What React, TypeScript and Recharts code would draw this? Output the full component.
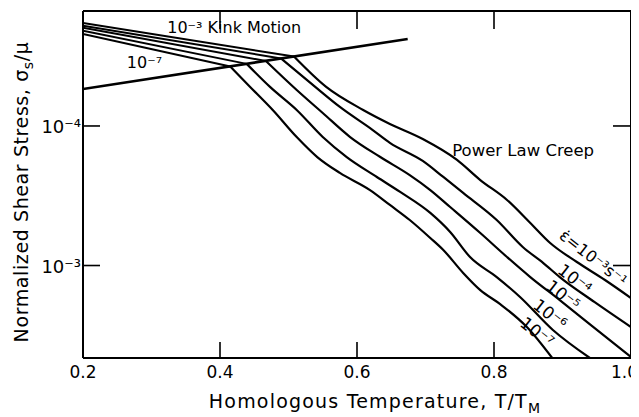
import React from 'react';
import { LineChart, Line, XAxis, YAxis, ReferenceDot, ReferenceLine } from 'recharts';

const FONT = '"DejaVu Sans", Verdana, sans-serif';
const INK = '#000';

// Layout
const CHART_W = 631;
const CHART_H = 409;
const MARGIN = { top: 3, right: 8, left: 15, bottom: 11 };
const PLOT_TOP = MARGIN.top;
const PLOT_RIGHT = CHART_W - MARGIN.right;

// Axes
const X_DOMAIN = [0.2, 1.0];
const X_TICKS = [0.2, 0.4, 0.6, 0.8, 1.0];
const X_TICK_LABELS = ['0.2', '0.4', '0.6', '0.8', '1.0'];
const Y_DOMAIN = [1.5e-5, 4.6e-3];
const Y_TICKS = [1e-4, 1e-3];
const Y_TICK_LABELS = ['10⁻⁴', '10⁻³'];

// Kink-motion lines [T/TM, stress]
const KINK_E3 = [[0.2, 1.83e-5], [0.508, 3.18e-5]];
const KINK_E4 = [[0.2, 1.91e-5], [0.489, 3.28e-5]];
const KINK_E5 = [[0.2, 1.98e-5], [0.467, 3.42e-5]];
const KINK_E6 = [[0.2, 2.08e-5], [0.439, 3.59e-5]];
const KINK_E7 = [[0.2, 2.19e-5], [0.415, 3.75e-5]];

// Transition boundary
const BOUNDARY = [[0.2, 5.43e-5], [0.674, 2.38e-5]];

// Power-law creep curves
const CREEP_E3 = [[0.508, 3.18e-5], [0.555, 5.25e-5], [0.609, 7.68e-5], [0.648, 9.67e-5], [0.696, 1.24e-4], [0.746, 1.75e-4], [0.78, 2.44e-4], [0.819, 3.39e-4], [0.853, 4.96e-4], [0.882, 6.9e-4], [0.921, 9.44e-4], [0.962, 1.27e-3], [1.0, 1.71e-3]];
const CREEP_E4 = [[0.489, 3.28e-5], [0.539, 5.25e-5], [0.575, 7.31e-5], [0.623, 1.07e-4], [0.648, 1.32e-4], [0.696, 1.78e-4], [0.726, 2.32e-4], [0.755, 3.02e-4], [0.804, 4.72e-4], [0.842, 7.37e-4], [0.872, 9.6e-4], [0.896, 1.21e-3], [0.947, 1.83e-3], [1.0, 2.76e-3]];
const CREEP_E5 = [[0.467, 3.42e-5], [0.512, 5.52e-5], [0.55, 8.07e-5], [0.59, 1.2e-4], [0.634, 1.67e-4], [0.677, 2.25e-4], [0.707, 2.88e-4], [0.736, 3.81e-4], [0.78, 5.85e-4], [0.819, 8.69e-4], [0.853, 1.21e-3], [0.896, 1.77e-3], [0.947, 2.81e-3], [1.0, 4.53e-3]];
const CREEP_E6 = [[0.439, 3.59e-5], [0.473, 5.25e-5], [0.512, 7.68e-5], [0.55, 1.2e-4], [0.585, 1.67e-4], [0.629, 2.32e-4], [0.663, 2.97e-4], [0.707, 4.2e-4], [0.736, 5.75e-4], [0.765, 8.69e-4], [0.804, 1.21e-3], [0.838, 1.68e-3], [0.886, 2.9e-3], [0.94, 4.6e-3]];
const CREEP_E7 = [[0.415, 3.75e-5], [0.444, 5.25e-5], [0.477, 7.68e-5], [0.512, 1.2e-4], [0.542, 1.67e-4], [0.575, 2.17e-4], [0.619, 2.88e-4], [0.648, 3.68e-4], [0.677, 4.72e-4], [0.707, 6.35e-4], [0.726, 7.74e-4], [0.755, 1.13e-3], [0.78, 1.5e-3], [0.809, 1.89e-3], [0.848, 2.76e-3], [0.885, 4.6e-3]];

// Annotations
const ANNOT_TEXT = ['10⁻³ Kink Motion', '10⁻⁷', 'Power Law Creep', 'ε̇=10⁻³s⁻¹', '10⁻⁴', '10⁻⁵', '10⁻⁶', '10⁻⁷'];
const ANNOT_T = [0.323, 0.264, 0.739, 0.945, 0.918, 0.901, 0.882, 0.863];
const ANNOT_S = [2.15e-5, 3.84e-5, 1.64e-4, 8.84e-4, 1.25e-3, 1.63e-3, 2.23e-3, 3.0e-3];
const ANNOT_ANGLE = [0, 0, 0, 38, 38, 38, 38, 38];
const ANNOT_SIZE = [16, 16, 16.5, 16, 17, 17, 17, 17];

const rows = (pts: number[][]) => pts.map(([t, s]) => ({ t, s }));

const KINKS = [KINK_E3, KINK_E4, KINK_E5, KINK_E6, KINK_E7];
const CREEPS = [CREEP_E3, CREEP_E4, CREEP_E5, CREEP_E6, CREEP_E7];

const isInner = (v: number, arr: number[]) => v > Math.min(...arr) + 1e-9 && v < Math.max(...arr) - 1e-9;

const BottomTick = (props: any) => {
  const x = Number(props.x);
  const y = Number(props.y);
  const v = props.payload.value;
  const i = X_TICKS.findIndex((t) => Math.abs(t - v) < 1e-9);
  const last = i === X_TICKS.length - 1;
  const inner = isInner(v, X_DOMAIN);
  return (
    <g>
      {inner && <rect x={x - 0.8} y={y - 16} width={1.6} height={16} fill={INK} />}
      {inner && <rect x={x - 0.8} y={PLOT_TOP} width={1.6} height={18} fill={INK} />}
      <text x={last ? x + 7 : x} y={y + 20} textAnchor={last ? 'end' : 'middle'} fontSize={17} fontFamily={FONT} fill={INK}>
        {X_TICK_LABELS[i]}
      </text>
    </g>
  );
};

const LeftTick = (props: any) => {
  const x = Number(props.x);
  const y = Number(props.y);
  const v = props.payload.value;
  const i = Y_TICKS.findIndex((t) => Math.abs(t - v) / t < 1e-6);
  return (
    <g>
      <rect x={x} y={y - 0.8} width={17} height={1.6} fill={INK} />
      <rect x={PLOT_RIGHT - 18} y={y - 0.8} width={18} height={1.6} fill={INK} />
      <text x={x - 2} y={y + 7} textAnchor="end" fontSize={18} fontFamily={FONT} fill={INK}>
        {Y_TICK_LABELS[i]}
      </text>
    </g>
  );
};

const XTitle = (props: any) => {
  const vb = props.viewBox || {};
  const cx = vb.x + vb.width / 2 + 18;
  const by = vb.y + 50;
  return (
    <text x={cx} y={by} textAnchor="middle" fontSize={19} letterSpacing={1.2} fontFamily={FONT} fill={INK}>
      Homologous Temperature, T/T<tspan dy={5} fontSize={14}>M</tspan>
    </text>
  );
};

const YTitle = (props: any) => {
  const vb = props.viewBox || {};
  const cx = vb.x + 5;
  const cy = vb.y + vb.height / 2 + 7.5;
  const plotLeft = vb.x + vb.width;
  return (
    <g>
      <rect x={plotLeft} y={vb.y - 1} width={PLOT_RIGHT - plotLeft + 1} height={2} fill={INK} />
      <rect x={PLOT_RIGHT - 1} y={vb.y - 1} width={2} height={vb.height + 1} fill={INK} />
      <text x={cx} y={cy} transform={`rotate(-90, ${cx}, ${cy})`} textAnchor="middle" fontSize={19} letterSpacing={0.6} fontFamily={FONT} fill={INK}>
        Normalized Shear Stress, σ<tspan dy={5} fontSize={14}>s</tspan><tspan dy={-5}>/μ</tspan>
      </text>
    </g>
  );
};

const AnnotLabel = (props: any) => {
  const vb = props.viewBox || {};
  const x = vb.x + (vb.width || 0) / 2;
  const y = vb.y + (vb.height || 0) / 2;
  const rot = props.rot || 0;
  return (
    <text
      x={x}
      y={y}
      transform={rot ? `rotate(${rot}, ${x}, ${y})` : undefined}
      textAnchor={rot ? 'middle' : 'start'}
      dominantBaseline={rot ? 'central' : 'alphabetic'}
      fontSize={props.fs}
      fontFamily={FONT}
      fill={INK}
    >
      {props.txt}
    </text>
  );
};

export default function App() {
  return (
    <div style={{ background: '#fff', width: CHART_W, height: CHART_H }}>
      <LineChart width={CHART_W} height={CHART_H} margin={MARGIN}>
        <XAxis
          dataKey="t"
          type="number"
          domain={X_DOMAIN}
          ticks={X_TICKS}
          interval={0}
          allowDataOverflow
          height={48}
          tickSize={0}
          tickMargin={0}
          tickLine={false}
          axisLine={{ stroke: INK, strokeWidth: 2 }}
          tick={<BottomTick />}
          label={<XTitle />}
        />
        <YAxis
          dataKey="s"
          type="number"
          scale="log"
          domain={Y_DOMAIN}
          reversed
          allowDataOverflow
          ticks={Y_TICKS}
          interval={0}
          width={60}
          tickSize={0}
          tickMargin={0}
          tickLine={false}
          axisLine={{ stroke: INK, strokeWidth: 2 }}
          tick={<LeftTick />}
          label={<YTitle />}
        />
        <ReferenceLine y={Y_DOMAIN[0]} stroke={INK} strokeWidth={2} ifOverflow="visible" />
        <ReferenceLine x={X_DOMAIN[1]} stroke={INK} strokeWidth={2} ifOverflow="visible" />
        <Line
          data={rows(BOUNDARY)}
          dataKey="s"
          type="linear"
          stroke={INK}
          strokeWidth={2.6}
          dot={false}
          activeDot={false}
          isAnimationActive={false}
        />
        {KINKS.map((k, i) => (
          <Line
            key={'k' + i}
            data={rows(k)}
            dataKey="s"
            type="linear"
            stroke={INK}
            strokeWidth={2}
            dot={false}
            activeDot={false}
            isAnimationActive={false}
          />
        ))}
        {CREEPS.map((c, i) => (
          <Line
            key={'c' + i}
            data={rows(c)}
            dataKey="s"
            type="monotone"
            stroke={INK}
            strokeWidth={2.2}
            dot={false}
            activeDot={false}
            isAnimationActive={false}
          />
        ))}
        {ANNOT_TEXT.map((txt, i) => (
          <ReferenceDot
            key={'a' + i}
            x={ANNOT_T[i]}
            y={ANNOT_S[i]}
            r={0}
            fill="none"
            stroke="none"
            ifOverflow="visible"
            label={<AnnotLabel txt={txt} rot={ANNOT_ANGLE[i]} fs={ANNOT_SIZE[i]} />}
          />
        ))}
      </LineChart>
    </div>
  );
}
